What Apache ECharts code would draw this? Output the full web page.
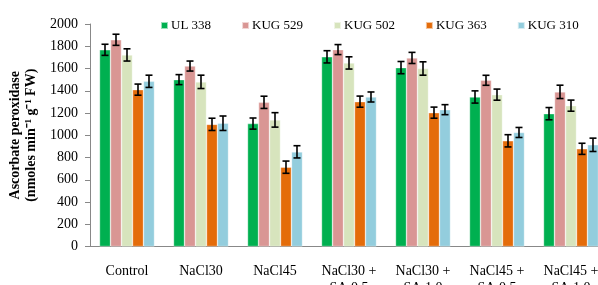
<!DOCTYPE html>
<html>
<head>
<meta charset="utf-8">
<script src="https://cdn.jsdelivr.net/npm/echarts@6/dist/echarts.min.js"></script>
<style>
  html, body { margin: 0; padding: 0; background: #fff; }
  #chart { width: 598px; height: 285px; }
</style>
</head>
<body>
<div id="chart"></div>
<script>
// treatments on the x axis
const categories = ['Control', 'NaCl30', 'NaCl45', 'NaCl30 +\nSA 0.5', 'NaCl30 +\nSA 1.0', 'NaCl45 +\nSA 0.5', 'NaCl45 +\nSA 1.0'];
const seriesNames = ['UL 338', 'KUG 529', 'KUG 502', 'KUG 363', 'KUG 310'];

// APX activity per genotype
const ul338 = [1768, 1500, 1105, 1705, 1608, 1344, 1194];
const kug529 = [1858, 1622, 1296, 1770, 1695, 1494, 1390];
const kug502 = [1722, 1480, 1138, 1650, 1600, 1365, 1266];
const kug363 = [1410, 1098, 713, 1302, 1203, 950, 878];
const kug310 = [1485, 1108, 851, 1344, 1230, 1025, 914];

// error bars (+/-)
const errUl338 = [50, 45, 50, 55, 55, 55, 55];
const errKug529 = [50, 45, 55, 45, 50, 45, 60];
const errKug502 = [55, 60, 65, 55, 60, 50, 50];
const errKug363 = [50, 55, 55, 50, 50, 55, 50];
const errKug310 = [55, 65, 55, 45, 45, 45, 60];

const yTicks = [0, 200, 400, 600, 800, 1000, 1200, 1400, 1600, 1800, 2000];

const colors = ['#00B050', '#D99694', '#D7E4BD', '#E46C0A', '#93CDDD'];
const values = [ul338, kug529, kug502, kug363, kug310];
const errors = [errUl338, errKug529, errKug502, errKug363, errKug310];

const catGap = 0.257;
const serif = '"Liberation Serif", "Times New Roman", serif';

const chart = echarts.init(document.getElementById('chart'));

const series = [];
values.forEach((vals, i) => {
  series.push({
    name: seriesNames[i],
    type: 'bar',
    data: vals,
    barGap: '0%',
    barCategoryGap: (catGap * 100) + '%',
    itemStyle: { color: colors[i], borderColor: 'rgba(255,255,255,0.6)', borderWidth: 0.6 },
    z: 2
  });
});

// error bars drawn as a custom series
values.forEach((vals, i) => {
  series.push({
    type: 'custom',
    name: seriesNames[i],
    z: 5,
    data: vals.map((v, k) => [k, v - errors[i][k], v + errors[i][k]]),
    renderItem: function (params, api) {
      const k = api.value(0);
      const lo = api.coord([k, api.value(1)]);
      const hi = api.coord([k, api.value(2)]);
      const band = api.size([1, 0])[0];
      const bw = band * (1 - catGap) / 5;
      const x = lo[0] + (i - 2) * bw;
      const cap = 3.5;
      const st = { stroke: '#000', lineWidth: 1.6 };
      return {
        type: 'group',
        children: [
          { type: 'line', shape: { x1: x, y1: lo[1], x2: x, y2: hi[1] }, style: st },
          { type: 'line', shape: { x1: x - cap, y1: lo[1], x2: x + cap, y2: lo[1] }, style: st },
          { type: 'line', shape: { x1: x - cap, y1: hi[1], x2: x + cap, y2: hi[1] }, style: st }
        ]
      };
    },
    silent: true
  });
});

chart.setOption({
  animation: false,
  textStyle: { fontFamily: serif },
  legend: {
    data: seriesNames,
    top: 19,
    left: 160,
    width: 438,
    padding: 0,
    itemWidth: 7,
    itemHeight: 7,
    itemGap: 30,
    icon: 'rect',
    textStyle: { fontFamily: serif, fontSize: 13, color: '#000', padding: [0, 0, 0, -2] }
  },
  grid: { left: 90, right: -10, top: 24, bottom: 38.5, containLabel: false, outerBoundsMode: 'none' },
  xAxis: {
    type: 'category',
    data: categories,
    axisLine: { lineStyle: { color: '#888', width: 1 } },
    axisTick: { show: false },
    axisLabel: { fontFamily: serif, fontSize: 14, color: '#000', margin: 16, lineHeight: 17, interval: 0 }
  },
  yAxis: {
    type: 'value',
    min: yTicks[0],
    max: yTicks[yTicks.length - 1],
    interval: 200,
    name: 'Ascorbate peroxidase\n(nmoles min⁻¹ g⁻¹ FW)',
    nameLocation: 'middle',
    nameGap: 50,
    nameTextStyle: { fontFamily: serif, fontSize: 14, fontWeight: 'bold', color: '#000', lineHeight: 16 },
    axisLine: { show: true, lineStyle: { color: '#888', width: 1 } },
    axisTick: { show: true, length: 5, lineStyle: { color: '#888' } },
    splitLine: { show: false },
    axisLabel: { fontFamily: serif, fontSize: 14, color: '#000', margin: 12, formatter: v => String(v) }
  },
  series: series
});
</script>
</body>
</html>
